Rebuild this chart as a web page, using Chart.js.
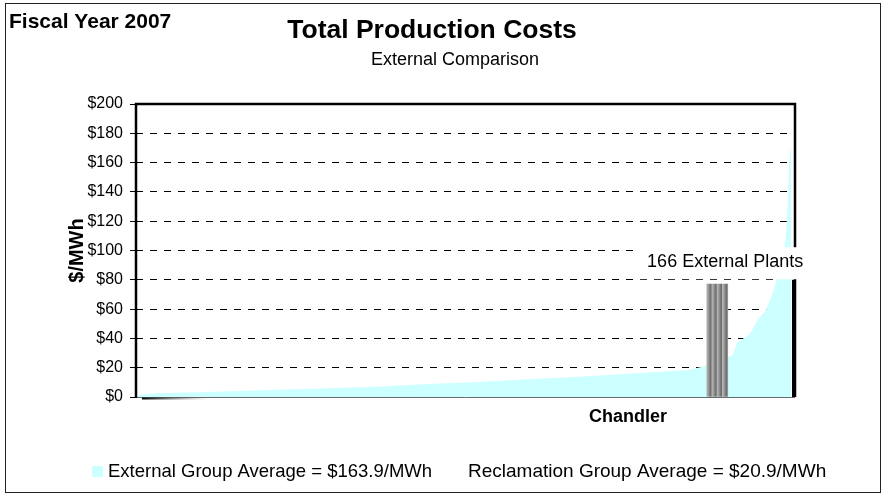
<!DOCTYPE html>
<html>
<head>
<meta charset="utf-8">
<title>Total Production Costs</title>
<script src="https://cdn.jsdelivr.net/npm/chart.js@4/dist/chart.umd.min.js"></script>
<style>
  html, body { margin: 0; padding: 0; background: #fff; }
  #wrap { width: 883px; height: 496px; }
</style>
</head>
<body>
<div id="wrap"><canvas id="costChart"></canvas></div>
<script>
// 166 external plants, sorted by cost (rank along x, $/MWh up)
const plantRanks = [0, 1, 5, 16, 24, 36, 49, 62, 74, 87, 97, 110, 123, 133, 140, 144, 150, 151.3, 152.3, 153.6, 155.6, 157.6, 159.6, 161.2, 162.4, 164, 164.7, 165.2, 165.5, 166];
const plantCosts = [0.5, 1.5, 2.5, 3.3, 4, 5, 6, 7.2, 8.8, 10.2, 11.7, 13.5, 15.6, 17.2, 18.5, 21, 27, 29, 37, 39.5, 43, 53, 59, 70, 80, 96, 110, 134, 160, 172];

const chandlerRank = [147.3];
const chandlerCost = [77];

const costTicks = [0, 20, 40, 60, 80, 100, 120, 140, 160, 180, 200];
const legendLabels = ["External Group Average = $163.9/MWh", "Reclamation Group Average = $20.9/MWh"];
const plantLabel = "166 External Plants";
const labelAt = { x: 149.3, y: 92 };
const chandlerTickAt = 124.7;

const FONT = '"Liberation Sans", Arial, sans-serif';
const extColor = "#CCFFFF";

function chandlerFill(context) {
  const chart = context.chart;
  const xs = chart.scales.x;
  if (!chart.chartArea || !xs) return "#999";
  const cx = xs.getPixelForValue(chandlerRank[0]);
  const g = chart.ctx.createLinearGradient(cx - 10.5, 0, cx + 10.5, 0);
  const stripes = 4;
  for (let i = 0; i < stripes; i++) {
    g.addColorStop(i / stripes, "#b8b8b8");
    g.addColorStop((i + 0.8) / stripes, "#6a6a6a");
  }
  g.addColorStop(1, "#a0a0a0");
  return g;
}

const framePlugin = {
  id: "frame",
  beforeDraw(chart) {
    const ctx = chart.ctx;
    ctx.save();
    ctx.fillStyle = "#fff";
    ctx.fillRect(0, 0, chart.width, chart.height);
    ctx.strokeStyle = "#222";
    ctx.lineWidth = 1;
    ctx.strokeRect(5.5, 3.5, 875, 489);

    ctx.fillStyle = "#000";
    ctx.textBaseline = "middle";
    ctx.textAlign = "left";
    ctx.font = "bold 21px " + FONT;
    ctx.fillText("Fiscal Year 2007", 9, 22);
    ctx.textAlign = "center";
    ctx.font = "bold 26.5px " + FONT;
    ctx.fillText("Total Production Costs", 432, 31);
    ctx.font = "18px " + FONT;
    ctx.fillText("External Comparison", 455, 60);

    // legend
    ctx.textAlign = "left";
    ctx.fillStyle = extColor;
    ctx.fillRect(92, 466, 11, 11);
    ctx.fillStyle = "#000";
    ctx.font = "18.5px " + FONT;
    ctx.fillText(legendLabels[0], 108, 472);
    ctx.font = "19px " + FONT;
    ctx.fillText(legendLabels[1], 468, 472);
    ctx.restore();
  },
  afterDatasetsDraw(chart) {
    const ctx = chart.ctx;
    const a = chart.chartArea;
    const ys = chart.scales.y;
    const xs = chart.scales.x;
    ctx.save();

    // bottom axis line
    ctx.strokeStyle = "#6a6a6a";
    ctx.lineWidth = 1;
    ctx.beginPath();
    ctx.moveTo(a.left, a.bottom + 0.5);
    ctx.lineTo(a.right, a.bottom + 0.5);
    ctx.stroke();
    const g = ctx.createLinearGradient(a.left + 6, 0, a.left + 72, 0);
    g.addColorStop(0, "#000");
    g.addColorStop(1, "rgba(90,90,90,0)");
    ctx.strokeStyle = g;
    ctx.lineWidth = 2;
    ctx.beginPath();
    ctx.moveTo(a.left + 6, a.bottom + 1.5);
    ctx.lineTo(a.left + 72, a.bottom + 1.5);
    ctx.stroke();

    // left / top / right frame
    ctx.strokeStyle = "#000";
    ctx.lineWidth = 2.5;
    ctx.beginPath();
    ctx.moveTo(a.left, a.bottom + 1);
    ctx.lineTo(a.left, a.top);
    ctx.lineTo(a.right, a.top);
    ctx.lineTo(a.right, a.bottom);
    ctx.stroke();
    ctx.lineWidth = 4;
    ctx.beginPath();
    ctx.moveTo(a.right - 1, ys.getPixelForValue(80));
    ctx.lineTo(a.right - 1, a.bottom);
    ctx.stroke();

    // plant count label
    ctx.font = "18px " + FONT;
    const cx = xs.getPixelForValue(labelAt.x);
    const cy = ys.getPixelForValue(labelAt.y);
    const w = ctx.measureText(plantLabel).width;
    ctx.fillStyle = "#fff";
    ctx.fillRect(cx - w / 2 - 8, cy - 15, w + 16, 32);
    ctx.fillStyle = "#000";
    ctx.textAlign = "center";
    ctx.textBaseline = "middle";
    ctx.fillText(plantLabel, cx, cy);
    ctx.restore();
  }
};

const ctx = document.getElementById("costChart").getContext("2d");

const costChart = new Chart(ctx, {
  type: "line",
  data: {
    datasets: [
      {
        type: "bar",
        label: "Chandler",
        data: chandlerRank.map((r, i) => ({ x: r, y: chandlerCost[i] })),
        backgroundColor: chandlerFill,
        borderWidth: 0,
        barThickness: 21,
        grouped: false,
        order: 0
      },
      {
        label: "External Plants",
        data: plantRanks.map((r, i) => ({ x: r, y: plantCosts[i] })),
        borderWidth: 0,
        borderColor: extColor,
        backgroundColor: extColor,
        fill: "origin",
        pointRadius: 0,
        tension: 0,
        order: 1
      }
    ]
  },
  options: {
    responsive: true,
    maintainAspectRatio: false,
    animation: false,
    layout: { padding: { left: 20, right: 88, top: 104, bottom: 0 } },
    plugins: {
      legend: { display: false },
      title: { display: false },
      tooltip: { enabled: false }
    },
    scales: {
      x: {
        type: "linear",
        min: 0,
        max: 167,
        offset: false,
        grid: { display: false, drawTicks: false, offset: false },
        border: { display: false },
        afterBuildTicks: (scale) => {
          scale.ticks = [{ value: chandlerTickAt }];
        },
        afterFit: (scale) => {
          scale.height = 99;
        },
        ticks: {
          callback: () => "Chandler",
          color: "#000",
          padding: 9,
          maxRotation: 0,
          font: { family: FONT, size: 18, weight: "bold" }
        }
      },
      y: {
        min: 0,
        max: 200,
        afterBuildTicks: (scale) => {
          scale.ticks = costTicks.map((v) => ({ value: v }));
        },
        afterFit: (scale) => {
          scale.width = 116;
        },
        grid: {
          color: (c) => (c.tick && (c.tick.value === 0 || c.tick.value === 200) ? "rgba(0,0,0,0)" : "#000"),
          lineWidth: 1,
          tickLength: 6,
          tickColor: "#000",
          tickWidth: 1,
          tickBorderDash: []
        },
        border: { display: false, dash: [7, 7] },
        ticks: {
          callback: (v) => "$" + v,
          color: "#000",
          padding: 7,
          font: { family: FONT, size: 16 }
        },
        title: {
          display: true,
          text: "$/MWh",
          color: "#000",
          padding: { top: 45, bottom: 0 },
          font: { family: FONT, size: 20, weight: "bold" }
        }
      }
    }
  },
  plugins: [framePlugin]
});
</script>
</body>
</html>
